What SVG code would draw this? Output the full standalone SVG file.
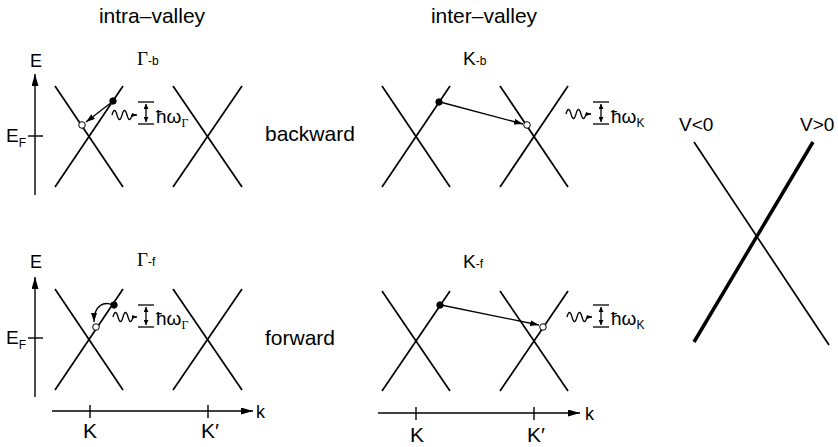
<svg xmlns="http://www.w3.org/2000/svg" width="838" height="447" viewBox="0 0 838 447">
<style>
.band{stroke:#000;stroke-width:1.7;fill:none}
.ax{stroke:#000;stroke-width:1.4;fill:none}
.ln{stroke:#000;stroke-width:1.3;fill:none}
.sans{font-family:"Liberation Sans",Arial,sans-serif;fill:#000}
.serif{font-family:"Liberation Serif","Times New Roman",serif;fill:#000}
.t21{font-size:21px}
.t19{font-size:19px}
.t18{font-size:18px}
.sub{font-size:12px}
.full{fill:#000;stroke:#000;stroke-width:1}
.open{fill:#fff;stroke:#000;stroke-width:1}
</style>
<defs>
<marker id="ah" markerUnits="userSpaceOnUse" markerWidth="9" markerHeight="6" refX="9" refY="3" orient="auto"><path d="M0,0 L9,3 L0,6 z" fill="#000"/></marker>
<marker id="axh" markerUnits="userSpaceOnUse" markerWidth="12" markerHeight="7" refX="12" refY="3.5" orient="auto"><path d="M0,0 L12,3.5 L0,7 z" fill="#000"/></marker>
<marker id="sh" markerUnits="userSpaceOnUse" markerWidth="5" markerHeight="5" refX="5" refY="2.5" orient="auto-start-reverse"><path d="M0,0 L5,2.5 L0,5 z" fill="#000"/></marker>
<marker id="wh" markerUnits="userSpaceOnUse" markerWidth="5" markerHeight="4" refX="5" refY="2" orient="auto"><path d="M0,0 L5,2 L0,4 z" fill="#000"/></marker>
</defs>

<text class="sans t21" x="152" y="23" text-anchor="middle">intra–valley</text>
<text class="sans t21" x="484" y="23" text-anchor="middle">inter–valley</text>

<g id="panel-gamma-b">
<text class="serif t19" x="137" y="65">Γ<tspan class="sans sub">-b</tspan></text>
<line class="ax" x1="35" y1="195" x2="35" y2="74" marker-end="url(#axh)"/>
<text class="sans t18" x="36" y="67" text-anchor="middle">E</text>
<line class="ax" x1="28" y1="136" x2="43" y2="136"/>
<text class="sans t19" x="6" y="142">E<tspan class="sub" dy="5">F</tspan></text>
<line class="band" x1="55" y1="86" x2="123" y2="187"/>
<line class="band" x1="123" y1="86" x2="55" y2="187"/>
<line class="band" x1="173" y1="86" x2="242" y2="187"/>
<line class="band" x1="242" y1="86" x2="173" y2="187"/>
<circle class="full" cx="113" cy="101" r="3.2"/>
<circle class="open" cx="82" cy="125" r="3.3"/>
<path class="ln" d="M112,115 q2.5,-9 5,0 t5,0 t5,0 t5,0 L137,115" marker-end="url(#wh)"/>
<line class="ln" x1="138" y1="102" x2="154" y2="102"/>
<line class="ln" x1="138" y1="124" x2="154" y2="124"/>
<line class="ln" x1="146" y1="104" x2="146" y2="122" marker-start="url(#sh)" marker-end="url(#sh)"/>
<text class="sans t19" x="156" y="123">ħω<tspan class="serif sub" dy="4">Γ</tspan></text>
<text class="sans t21" x="265" y="141">backward</text>
</g>

<g id="panel-gamma-f">
<text class="serif t19" x="137" y="266">Γ<tspan class="sans sub">-f</tspan></text>
<line class="ax" x1="35" y1="397" x2="35" y2="277" marker-end="url(#axh)"/>
<text class="sans t18" x="36" y="268" text-anchor="middle">E</text>
<line class="ax" x1="28" y1="338" x2="43" y2="338"/>
<text class="sans t19" x="6" y="344">E<tspan class="sub" dy="5">F</tspan></text>
<line class="band" x1="55" y1="289" x2="123" y2="390"/>
<line class="band" x1="123" y1="289" x2="55" y2="390"/>
<line class="band" x1="173" y1="289" x2="242" y2="390"/>
<line class="band" x1="242" y1="289" x2="173" y2="390"/>
<circle class="full" cx="114" cy="305" r="3.2"/>
<circle class="open" cx="96" cy="327" r="3.3"/>
<path class="ln" d="M113,317 q2.5,-9 5,0 t5,0 t5,0 t5,0 L137,317" marker-end="url(#wh)"/>
<line class="ln" x1="138" y1="305" x2="154" y2="305"/>
<line class="ln" x1="138" y1="327" x2="154" y2="327"/>
<line class="ln" x1="146" y1="307" x2="146" y2="325" marker-start="url(#sh)" marker-end="url(#sh)"/>
<text class="sans t19" x="156" y="325">ħω<tspan class="serif sub" dy="4">Γ</tspan></text>
<text class="sans t21" x="265" y="345">forward</text>
<line class="ax" x1="52" y1="411" x2="253" y2="411" marker-end="url(#axh)"/>
<line class="ax" x1="90" y1="405" x2="90" y2="418"/>
<line class="ax" x1="208" y1="405" x2="208" y2="418"/>
<text class="sans t18" x="256" y="418">k</text>
<text class="sans t21" x="90" y="438" text-anchor="middle">K</text>
<text class="sans t21" x="210" y="438" text-anchor="middle">K′</text>
</g>

<g id="panel-k-b">
<text class="sans t19" x="463" y="65">K<tspan class="sub">-b</tspan></text>
<line class="band" x1="382" y1="86" x2="450" y2="187"/>
<line class="band" x1="450" y1="86" x2="382" y2="187"/>
<line class="band" x1="500" y1="86" x2="568" y2="187"/>
<line class="band" x1="568" y1="86" x2="500" y2="187"/>
<circle class="full" cx="439" cy="102" r="3.2"/>
<circle class="open" cx="527" cy="125" r="3.3"/>
<path class="ln" d="M566,114 q2.5,-9 5,0 t5,0 t5,0 t5,0 L591,114" marker-end="url(#wh)"/>
<line class="ln" x1="593" y1="102" x2="609" y2="102"/>
<line class="ln" x1="593" y1="124" x2="609" y2="124"/>
<line class="ln" x1="601" y1="104" x2="601" y2="122" marker-start="url(#sh)" marker-end="url(#sh)"/>
<text class="sans t19" x="611" y="123">ħω<tspan class="sub" dy="4">K</tspan></text>
</g>

<g id="panel-k-f">
<text class="sans t19" x="463" y="268">K<tspan class="sub">-f</tspan></text>
<line class="band" x1="382" y1="291" x2="450" y2="391"/>
<line class="band" x1="450" y1="291" x2="382" y2="391"/>
<line class="band" x1="500" y1="291" x2="568" y2="391"/>
<line class="band" x1="568" y1="291" x2="500" y2="391"/>
<circle class="full" cx="440" cy="305" r="3.2"/>
<circle class="open" cx="543" cy="327" r="3.3"/>
<path class="ln" d="M567,317 q2.5,-9 5,0 t5,0 t5,0 t5,0 L592,317" marker-end="url(#wh)"/>
<line class="ln" x1="593" y1="305" x2="609" y2="305"/>
<line class="ln" x1="593" y1="327" x2="609" y2="327"/>
<line class="ln" x1="601" y1="307" x2="601" y2="325" marker-start="url(#sh)" marker-end="url(#sh)"/>
<text class="sans t19" x="611" y="325">ħω<tspan class="sub" dy="4">K</tspan></text>
<line class="ax" x1="378" y1="413" x2="580" y2="413" marker-end="url(#axh)"/>
<line class="ax" x1="416" y1="407" x2="416" y2="420"/>
<line class="ax" x1="534" y1="407" x2="534" y2="420"/>
<text class="sans t18" x="585" y="420">k</text>
<text class="sans t21" x="417" y="442" text-anchor="middle">K</text>
<text class="sans t21" x="536" y="442" text-anchor="middle">K′</text>
</g>

<g id="panel-bias">
<line x1="694" y1="142" x2="829" y2="345" stroke="#000" stroke-width="1.7"/>
<line x1="813" y1="142" x2="694" y2="342" stroke="#000" stroke-width="3.5"/>
<text class="sans t19" x="679" y="131">V&lt;0</text>
<text class="sans t19" x="800" y="131">V&gt;0</text>
</g>

<g id="connectors">
<line class="ln" x1="112" y1="102" x2="86" y2="122" marker-end="url(#ah)"/>
<path class="ln" d="M113,305 C104,301 94,305 94,322" marker-end="url(#ah)"/>
<line class="ln" x1="440" y1="102" x2="523" y2="124" marker-end="url(#ah)"/>
<line class="ln" x1="441" y1="305" x2="539" y2="325" marker-end="url(#ah)"/>
</g>
</svg>
